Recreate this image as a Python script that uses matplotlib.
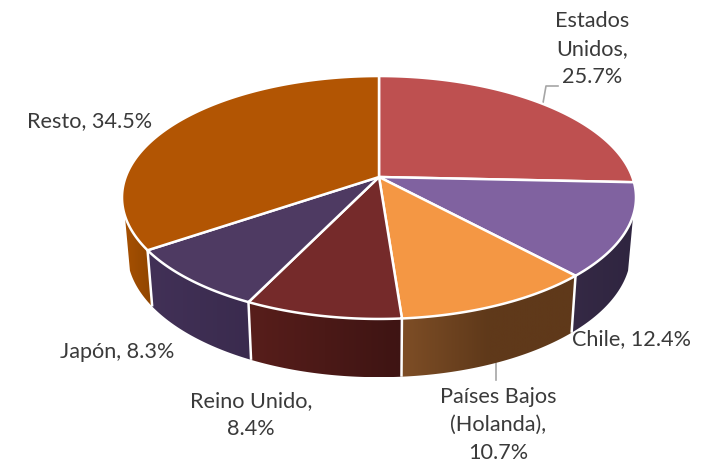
# Exportaciones por destino - torta 3D en perspectiva

import numpy as np
import matplotlib
matplotlib.use("Agg")
import matplotlib.pyplot as plt
from matplotlib.colors import LinearSegmentedColormap
from matplotlib.patches import Polygon

paises = ["Estados Unidos", "Chile", "Países Bajos (Holanda)", "Reino Unido", "Japón", "Resto"]
valores = [25.7, 12.4, 10.7, 8.4, 8.3, 34.5]
colores = ["#BE5050", "#8062A0", "#F49744", "#752A2A", "#4E3A62", "#B25503"]
# degradado de la pared lateral, izquierda -> derecha
lados = [None, ["#352945", "#2F2540"], ["#7E4E26", "#5F391A", "#60391A"],
         ["#581E1B", "#3E1413"], ["#423157", "#3A2B4E"], ["#A65002", "#8F4500"]]
etiquetas = ["Estados\nUnidos,\n25.7%", "Chile, 12.4%", "Países Bajos\n(Holanda),\n10.7%",
             "Reino Unido,\n8.4%", "Japón, 8.3%", "Resto, 34.5%"]
etiqueta_pos = [(592, 49), (632, 339), (498, 425), (251, 415), (117, 352), (90, 121)]

# geometria de la perspectiva, en pixeles
CX, CY = 379, 177
RX, RY, K = 253.3, 118, 0.1687
CY_BASE, SX_BASE, SY_BASE = 231, 0.98, 1.03
# angulos (sentido horario desde arriba) donde la pared deja de verse
ANG_DER, ANG_IZQ = np.radians(108), np.radians(252)

plt.rcParams['font.family'] = ['Lato', 'DejaVu Sans']


def borde(ang, base=False):
    x = np.sin(ang)
    y = np.cos(ang)
    d = 1 + K * y
    px = RX * x / d
    py = -RY * y / d
    if base:
        return np.column_stack([CX + SX_BASE * px, CY_BASE + SY_BASE * py])
    return np.column_stack([CX + px, CY + py])


fig = plt.figure(figsize=(7.07, 4.63), dpi=100)
ax = fig.add_axes([0, 0, 1, 1])
ax.set_xlim(0, 707)
ax.set_ylim(463, 0)
ax.axis('off')

cortes = np.radians(np.concatenate([[0], np.cumsum(valores)]) * 3.6)

# paredes laterales
for i in range(1, len(valores)):
    a0 = max(cortes[i], ANG_DER)
    a1 = min(cortes[i + 1], ANG_IZQ)
    ang = np.linspace(a0, a1, 120)
    arriba = borde(ang)
    abajo = borde(ang, base=True)
    pts = np.vstack([arriba, abajo[::-1]])
    cmap = LinearSegmentedColormap.from_list("lado", lados[i])
    pared = Polygon(pts, closed=True, facecolor='none', edgecolor='none')
    ax.add_patch(pared)
    # el degradado va de izquierda a derecha en pantalla
    x0, x1 = pts[:, 0].min(), pts[:, 0].max()
    y0, y1 = pts[:, 1].min(), pts[:, 1].max()
    img = ax.imshow(np.linspace(0, 1, 256).reshape(1, -1), cmap=cmap, aspect='auto',
                    extent=(x0, x1, y1, y0), zorder=2)
    img.set_clip_path(pared)

# separaciones blancas entre paredes
for i in range(2, len(valores)):
    seg = np.vstack([borde(cortes[[i]]), borde(cortes[[i]], base=True)])
    ax.plot(seg[:, 0], seg[:, 1], color='white', lw=1.8, zorder=3, solid_capstyle='butt')

ax.set_xlim(0, 707)
ax.set_ylim(463, 0)

# cara superior
for i in range(len(valores)):
    ang = np.linspace(cortes[i], cortes[i + 1], 160)
    pts = np.vstack([[CX, CY], borde(ang)])
    ax.add_patch(Polygon(pts, closed=True, facecolor=colores[i], edgecolor='white',
                         lw=1.8, joinstyle='round', zorder=4))

# lineas guia
ax.plot([543, 546, 558], [103, 86, 86], color='#A6A6A6', lw=1.2, zorder=1)
ax.plot([496, 496], [363, 380], color='#A6A6A6', lw=1.2, zorder=1)

for txt, (x, y) in zip(etiquetas, etiqueta_pos):
    ax.text(x, y, txt, ha='center', va='center', fontsize=15.6, color='#3A3A3A',
            linespacing=1.5, zorder=5)

fig.savefig("out.png", dpi=100)
